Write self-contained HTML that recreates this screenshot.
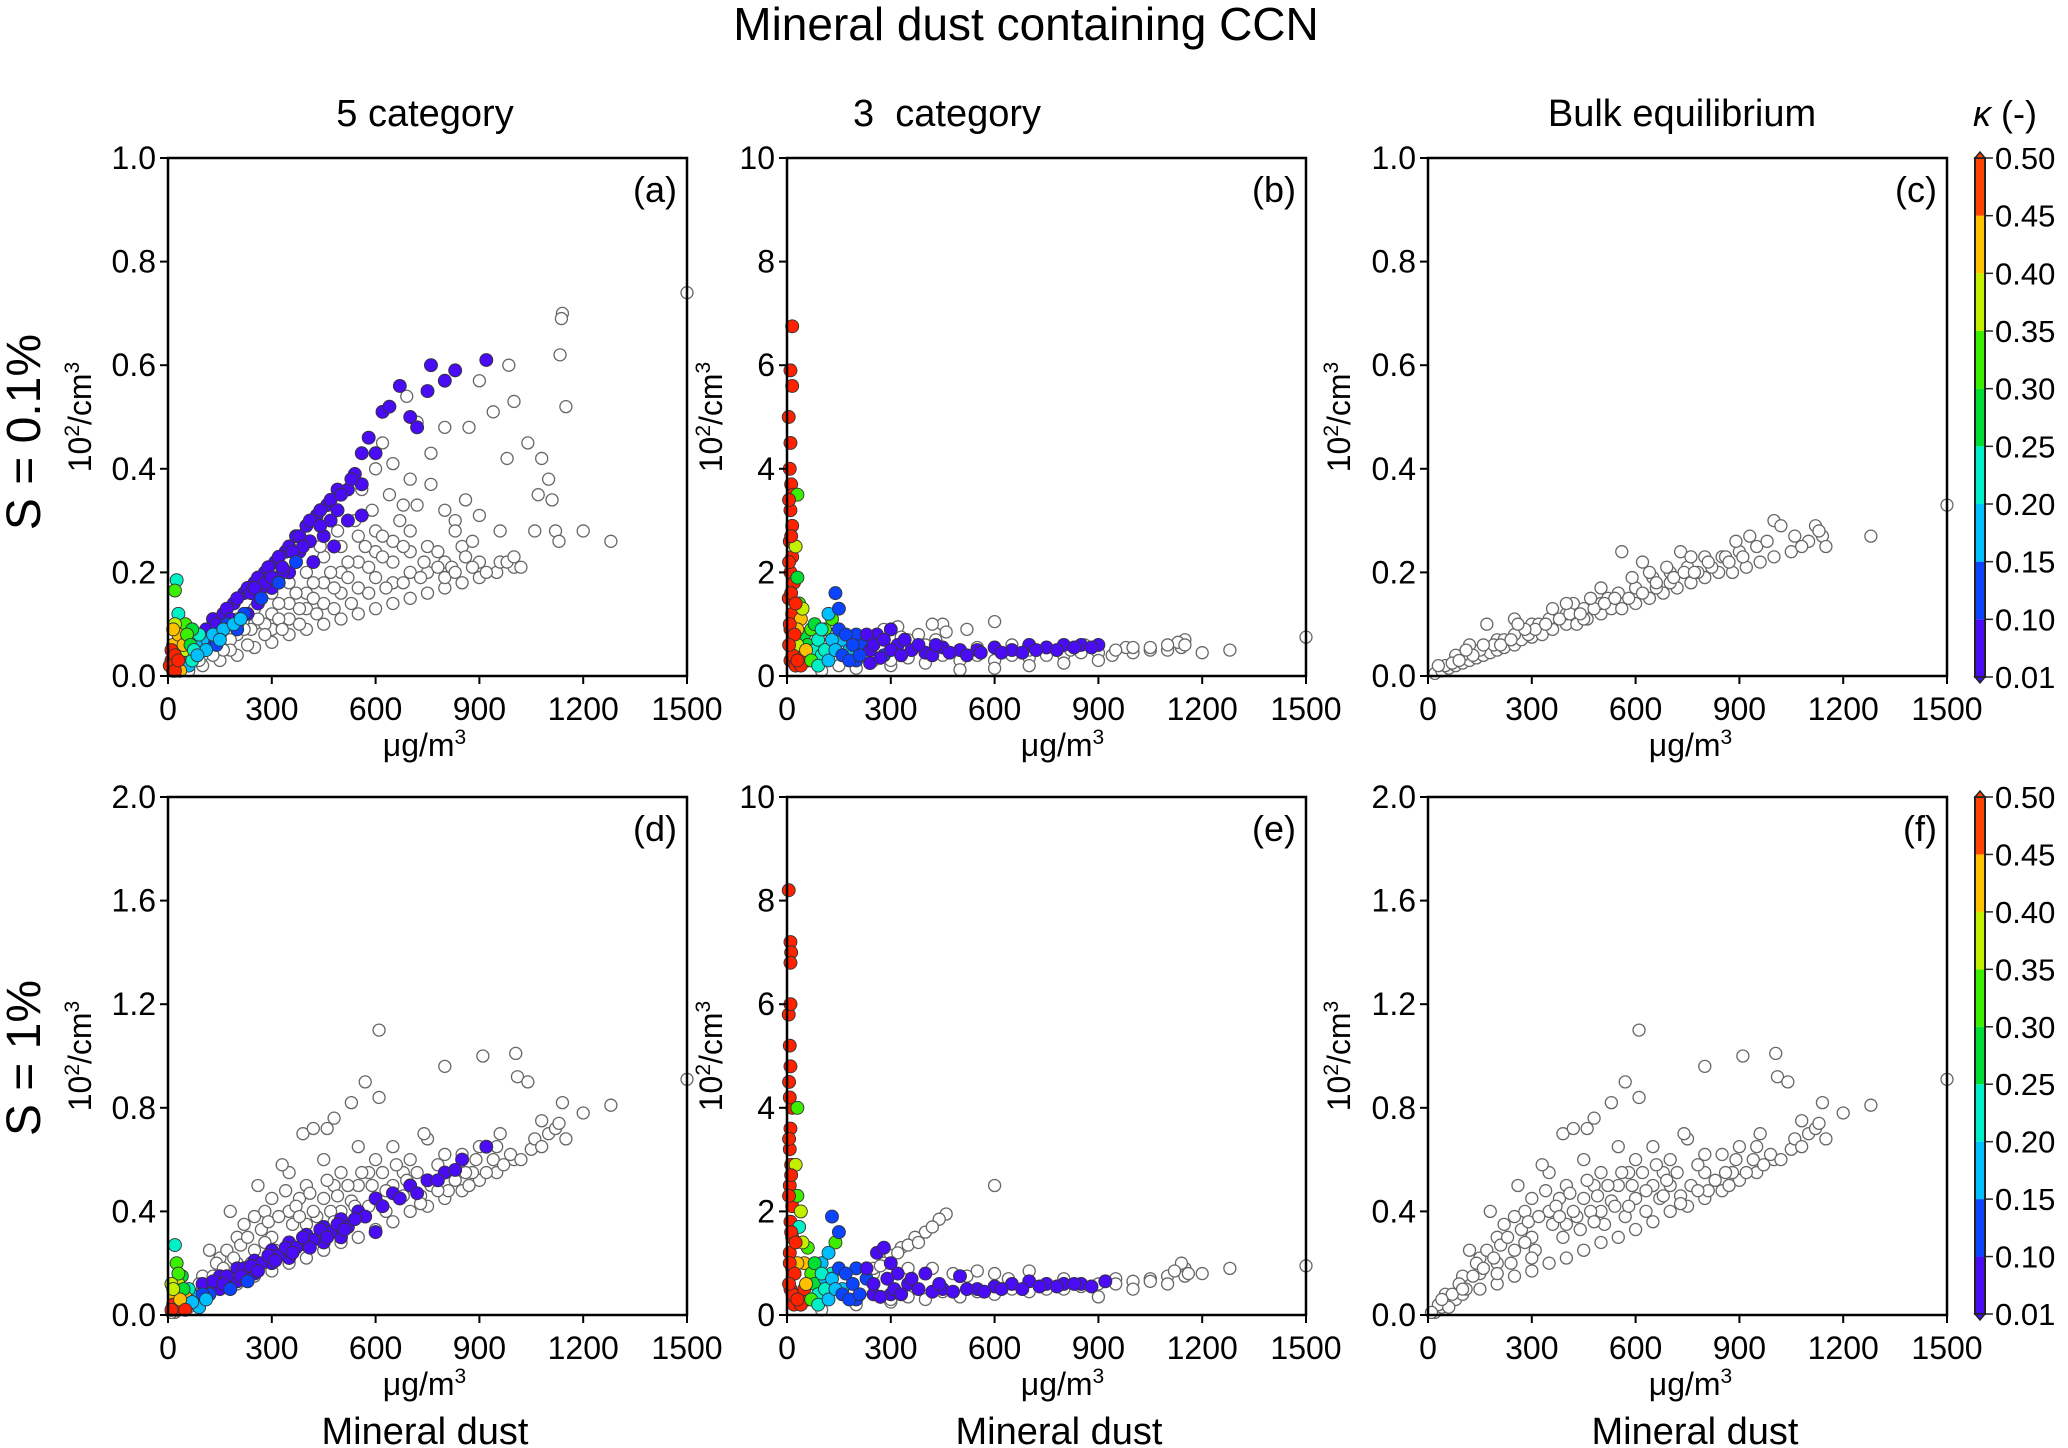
<!DOCTYPE html>
<html><head><meta charset="utf-8"><style>
html,body{margin:0;padding:0;background:#fff}
svg{display:block;font-family:"Liberation Sans",sans-serif}
</style></head><body>
<svg id="fig" width="2068" height="1448" viewBox="0 0 2068 1448" xmlns="http://www.w3.org/2000/svg">
<text x="1026" y="40" font-size="46" text-anchor="middle">Mineral dust containing CCN</text>
<text x="425" y="126" font-size="38" text-anchor="middle">5 category</text>
<text x="947" y="126" font-size="38" text-anchor="middle" xml:space="preserve">3  category</text>
<text x="1682" y="126" font-size="38" text-anchor="middle">Bulk equilibrium</text>
<text x="2005" y="126" font-size="36" text-anchor="middle"><tspan font-style="italic">κ</tspan> (-)</text>
<text transform="translate(40,432) rotate(-90)" font-size="48" text-anchor="middle">S = 0.1%</text>
<text transform="translate(40,1058) rotate(-90)" font-size="48" text-anchor="middle">S = 1%</text>
<text x="425" y="1444" font-size="38" text-anchor="middle">Mineral dust</text>
<text x="1059" y="1444" font-size="38" text-anchor="middle">Mineral dust</text>
<text x="1695" y="1444" font-size="38" text-anchor="middle">Mineral dust</text>
<g id="plots"></g>
</svg>
<script>
// ---- data ----
const xTicks = [0,300,600,900,1200,1500];
const yTicksA = ["0.0","0.2","0.4","0.6","0.8","1.0"];
const yTicksB = ["0","2","4","6","8","10"];
const yTicksD = ["0.0","0.4","0.8","1.2","1.6","2.0"];
const cbLabels = ["0.01","0.10","0.15","0.20","0.25","0.30","0.35","0.40","0.45","0.50"];
const cbColors = ["#4a0cf5","#0a44ff","#00bfff","#00f0c8","#00dd33","#3cee00","#c4f000","#ffc000","#ff4400"];
const kBounds = [0.10,0.15,0.20,0.25,0.30,0.35,0.40,0.45];

const grayA = [[60,0.01],[100,0.02],[150,0.03],[200,0.04],[250,0.055],[300,0.065],[350,0.08],[400,0.09],[450,0.1],[500,0.11],[550,0.12],[600,0.13],[650,0.14],[700,0.15],[750,0.16],[800,0.17],[850,0.18],[900,0.19],[950,0.2],[1000,0.21],
[150,0.06],[200,0.08],[250,0.1],[300,0.12],[350,0.14],[400,0.16],[450,0.18],[500,0.2],[550,0.22],[600,0.24],[650,0.26],[700,0.28],[750,0.25],[800,0.22],[850,0.25],[200,0.11],[300,0.16],[400,0.2],[500,0.25],[600,0.28],[350,0.18],[450,0.23],[550,0.27],[650,0.22],[700,0.2],[250,0.13],[100,0.04],[500,0.16],[600,0.19],[400,0.13],[300,0.09],[700,0.24],[800,0.19],[900,0.22],[450,0.14],[550,0.17],[650,0.18],[750,0.2],[350,0.11],
[120,0.05],[180,0.07],[240,0.09],[280,0.1],[320,0.11],[380,0.13],[420,0.15],[480,0.17],[520,0.19],[580,0.21],[620,0.23],[680,0.25],[740,0.22],[780,0.24],[820,0.21],[860,0.23],[920,0.2],[180,0.05],[230,0.06],[280,0.08],[330,0.09],[380,0.1],[430,0.12],[480,0.13],[530,0.14],[580,0.16],[630,0.17],[680,0.18],[730,0.19],[780,0.21],[830,0.2],[880,0.21],[960,0.22],[320,0.14],[370,0.16],[420,0.18],[470,0.2],[520,0.22],[570,0.25],[620,0.27],[670,0.3],[440,0.25],[490,0.28],[540,0.3],[590,0.32],[640,0.35],[680,0.33],[260,0.11],[220,0.09],[160,0.05],[130,0.04],[90,0.03],
[560,0.36],[600,0.4],[650,0.41],[700,0.38],[720,0.33],[760,0.37],[800,0.32],[830,0.3],[860,0.34],[900,0.31],[960,0.28],[980,0.22],[1000,0.23],[1020,0.21],[1040,0.45],[1080,0.42],[1100,0.38],[1070,0.35],[1110,0.34],[1120,0.28],[1130,0.26],[1060,0.28],[1200,0.28],[1280,0.26],[980,0.42],[1000,0.53],[985,0.6],[900,0.57],[870,0.48],[940,0.51],[1140,0.7],[1137,0.69],[1133,0.62],[1150,0.52],[1500,0.74],[800,0.48],[760,0.43],[690,0.54],[720,0.49],[620,0.45],[830,0.28],[880,0.26]];
const colA = [[100,0.08,.05],[130,0.11,.05],[160,0.12,.05],[190,0.14,.05],[220,0.16,.05],[250,0.18,.05],[280,0.2,.05],[310,0.22,.05],[340,0.24,.05],[370,0.27,.05],[400,0.29,.05],[430,0.31,.05],[460,0.33,.05],[490,0.36,.05],[520,0.36,.05],[540,0.39,.05],[560,0.43,.05],[580,0.46,.05],[620,0.51,.05],[640,0.52,.05],[670,0.56,.05],[700,0.5,.05],[720,0.48,.05],[750,0.55,.05],[760,0.6,.05],[800,0.57,.05],[830,0.59,.05],[920,0.61,.05],[600,0.43,.05],[560,0.37,.05],[560,0.31,.05],[450,0.27,.05],[380,0.24,.05],[300,0.17,.05],[260,0.14,.05],[200,0.1,.05],[150,0.08,.05],[420,0.22,.05],[520,0.3,.05],[480,0.25,.05],[350,0.2,.05],[230,0.12,.05],[410,0.26,.05],[470,0.3,.05],[330,0.2,.05],[270,0.17,.05],
[110,0.09,.05],[140,0.1,.05],[170,0.13,.05],[200,0.15,.05],[230,0.17,.05],[260,0.19,.05],[290,0.21,.05],[320,0.23,.05],[350,0.25,.05],[380,0.27,.05],[410,0.3,.05],[440,0.32,.05],[470,0.34,.05],[500,0.35,.05],[530,0.38,.05],[240,0.16,.05],[280,0.18,.05],[330,0.21,.05],[390,0.25,.05],[440,0.29,.05],[490,0.32,.05],[360,0.24,.05],[300,0.19,.05],[180,0.11,.05],[250,0.17,.05],
[120,0.07,.12],[170,0.1,.12],[220,0.12,.12],[270,0.15,.12],[320,0.18,.12],[370,0.22,.12],[140,0.06,.12],[200,0.09,.12],
[100,0.07,.17],[130,0.08,.17],[160,0.09,.17],[190,0.1,.17],[210,0.11,.17],
[80,0.06,.17],[110,0.05,.17],[150,0.07,.17],[60,0.04,.22],[90,0.08,.22],[25,0.185,.22],[20,0.165,.3],[30,0.12,.22],[50,0.1,.3],[70,0.09,.27],[40,0.07,.32],[20,0.1,.38],[30,0.05,.42],[15,0.06,.43],[40,0.03,.47],[25,0.02,.48],[10,0.03,.48],[50,0.05,.35],[60,0.02,.17],[35,0.01,.44],[15,0.01,.48],[70,0.03,.22],
[10,0.05,.48],[20,0.04,.46],[30,0.08,.44],[15,0.09,.4],[45,0.06,.4],[55,0.08,.33],[65,0.06,.27],[75,0.05,.22],[85,0.04,.17],[5,0.02,.5],[20,0.01,.5],[30,0.03,.47]];

const grayC = [[20,0.005],[40,0.01],[60,0.015],[80,0.02],[100,0.025],[120,0.03],[140,0.035],[160,0.04],[180,0.045],[200,0.05],[220,0.055],[250,0.06],[270,0.07],[300,0.075],[330,0.08],[360,0.09],[400,0.1],[430,0.1],[460,0.11],[500,0.12],[530,0.13],[560,0.13],[600,0.14],[640,0.15],[680,0.16],[720,0.17],[760,0.18],[800,0.19],[840,0.2],[880,0.2],[920,0.21],[960,0.22],[1000,0.23],[1050,0.24],[1100,0.26],[1140,0.27],[1280,0.27],[1500,0.33],
[50,0.02],[100,0.04],[150,0.05],[200,0.07],[250,0.08],[300,0.1],[350,0.11],[400,0.12],[450,0.13],[500,0.14],[550,0.16],[600,0.17],[650,0.19],[700,0.2],[750,0.21],[800,0.23],[850,0.23],[900,0.24],[950,0.25],[1000,0.3],[1020,0.29],[1120,0.29],[170,0.1],[250,0.11],[560,0.24],[620,0.22],[730,0.24],[860,0.23],[930,0.27],[360,0.13],[120,0.06],[80,0.04],[30,0.02],[700,0.18],[450,0.11],[1150,0.25],[520,0.15],[420,0.14],[320,0.1],[220,0.07],[660,0.17],[780,0.2],
[70,0.025],[90,0.03],[130,0.04],[190,0.06],[210,0.06],[240,0.07],[290,0.08],[310,0.09],[340,0.1],[380,0.11],[410,0.12],[440,0.12],[480,0.13],[510,0.14],[540,0.15],[580,0.15],[620,0.16],[660,0.18],[710,0.19],[740,0.2],[770,0.2],[820,0.21],[870,0.22],[910,0.23],[980,0.26],[1060,0.27],[1080,0.25],[1130,0.28],[280,0.09],[470,0.15],[590,0.19],[690,0.21],[810,0.22],[110,0.05],[160,0.06],[260,0.1],[400,0.14],[500,0.17],[640,0.2],[760,0.23],[890,0.26]];

const grayB = [[100,0.1],[200,0.15],[300,0.2],[400,0.25],[500,0.3],[600,0.3],[700,0.35],[800,0.4],[900,0.45],[1000,0.45],[1100,0.5],[1140,0.55],[1150,0.7],[1200,0.45],[1280,0.5],[1500,0.75],[980,0.55],[1050,0.5],[940,0.4],[860,0.6],[820,0.5],[600,1.05],[450,1.0],[420,1.0],[320,0.95],[280,0.9],[350,0.7],[400,0.6],[500,0.5],[550,0.55],[650,0.6],[700,0.5],[750,0.45],[250,0.3],[150,0.2],[1130,0.65],[1100,0.6],[1000,0.55],[900,0.3],[800,0.25],[700,0.2],[600,0.15],[500,0.12],
[300,0.3],[350,0.35],[450,0.4],[550,0.4],[650,0.4],[750,0.4],[850,0.45],[950,0.5],[1050,0.55],[1150,0.6],[380,0.8],[330,0.75],[520,0.9],[430,0.7],[460,0.85]];
const colB = [[15,6.75,.5],[10,5.9,.5],[15,5.6,.5],[5,5.0,.5],[10,4.5,.5],[8,4.0,.5],[12,3.7,.5],[18,3.5,.5],[10,3.2,.5],[15,2.9,.5],[8,2.6,.5],[15,2.3,.5],[10,2.0,.5],[20,1.8,.5],[5,1.5,.5],[15,1.2,.5],[10,0.9,.5],[20,0.6,.5],[10,0.3,.5],[25,0.2,.48],[30,3.5,.32],[25,2.5,.38],[30,1.9,.27],[35,1.4,.3],[40,1.1,.42],[50,0.8,.28],[60,0.6,.25],[70,0.9,.3],[80,0.5,.22],[90,0.7,.22],[100,0.4,.22],[110,0.9,.3],[130,1.1,.3],[120,1.2,.17],[140,1.6,.12],[150,1.3,.12],[160,0.7,.17],[180,0.5,.17],[200,0.8,.12],[220,0.6,.12],[240,0.5,.05],[260,0.8,.05],[300,0.9,.05],[320,0.6,.05],[360,0.5,.05],[400,0.45,.05],[450,0.55,.05],[500,0.5,.05],[550,0.5,.05],[600,0.55,.05],[650,0.5,.05],[700,0.6,.05],[750,0.55,.05],[800,0.6,.05],[850,0.6,.05],[900,0.6,.05],[280,0.4,.12],[200,0.3,.12],[240,0.25,.05],[60,0.3,.4],[40,0.3,.45],[30,0.6,.35],
[40,0.2,.48],[50,0.4,.45],[30,0.9,.42],[45,1.3,.35],[55,0.5,.4],[70,0.3,.3],[80,1.0,.28],[90,0.2,.22],[100,0.9,.2],[110,0.5,.2],[120,0.3,.17],[130,0.7,.17],[140,0.5,.17],[150,0.9,.12],[160,0.4,.12],[170,0.8,.12],[180,0.3,.12],[190,0.6,.12],[210,0.4,.12],[230,0.8,.05],[250,0.6,.05],[270,0.35,.05],[280,0.7,.05],[300,0.5,.05],[330,0.4,.05],[340,0.7,.05],[380,0.6,.05],[420,0.4,.05],[430,0.6,.05],[470,0.45,.05],[520,0.4,.05],[560,0.45,.05],[620,0.45,.05],[680,0.45,.05],[720,0.5,.05],[780,0.5,.05],[830,0.55,.05],[880,0.55,.05],
[8,1.0,.5],[12,1.6,.5],[6,2.2,.5],[12,2.7,.5],[6,3.4,.5],[16,0.4,.5],[22,0.8,.5],[25,1.4,.48],[6,0.6,.5],[30,0.3,.5]];

const grayE = [[100,0.1],[200,0.2],[300,0.25],[400,0.3],[500,0.35],[600,0.4],[700,0.45],[800,0.5],[900,0.6],[1000,0.65],[1100,0.75],[1150,0.9],[1140,1.0],[1200,0.8],[1280,0.9],[1500,0.95],[1050,0.7],[950,0.7],[850,0.6],[600,2.5],[460,1.95],[440,1.85],[400,1.6],[370,1.5],[330,1.3],[300,1.15],[280,1.0],[350,0.9],[420,0.9],[480,0.8],[520,0.75],[550,0.85],[640,0.7],[700,0.85],[750,0.6],[900,0.35],[1000,0.5],[1100,0.6],[250,0.8],
[300,0.3],[350,0.35],[450,0.45],[550,0.45],[650,0.5],[750,0.5],[850,0.55],[950,0.6],[1050,0.65],[1150,0.75],[320,1.2],[350,1.35],[380,1.4],[420,1.7],[250,0.9],[270,0.95],[600,0.8],[800,0.7],[1120,0.85],[1160,0.8]];
const colE = [[5,8.2,.5],[10,7.2,.5],[12,7.0,.5],[10,6.8,.5],[5,5.8,.5],[8,5.2,.5],[10,4.8,.5],[6,4.5,.5],[15,4.0,.5],[10,3.6,.5],[8,3.2,.5],[12,2.9,.5],[8,2.5,.5],[15,2.1,.5],[10,1.8,.5],[15,1.5,.5],[8,1.2,.5],[15,0.9,.5],[10,0.5,.5],[20,0.2,.5],[30,4.0,.3],[25,2.9,.38],[30,2.3,.32],[40,2.0,.38],[35,1.7,.22],[60,1.3,.3],[50,1.0,.42],[70,0.8,.3],[80,0.6,.27],[90,0.4,.22],[110,0.7,.17],[130,0.8,.22],[100,1.0,.17],[140,1.4,.3],[130,1.9,.12],[150,1.6,.12],[120,1.2,.17],[160,0.5,.17],[200,0.9,.12],[230,0.7,.12],[260,1.2,.05],[280,1.3,.05],[300,1.0,.05],[320,0.8,.05],[350,0.6,.05],[400,0.8,.05],[450,0.5,.05],[500,0.75,.05],[550,0.5,.05],[600,0.55,.05],[650,0.6,.05],[700,0.65,.05],[750,0.6,.05],[800,0.6,.05],[850,0.6,.05],[920,0.65,.05],[250,0.4,.05],[200,0.3,.12],[300,0.4,.05],[60,0.3,.45],[40,0.2,.48],
[40,0.2,.48],[50,0.5,.45],[30,1.0,.42],[45,1.4,.35],[55,0.6,.4],[70,0.3,.3],[80,1.0,.28],[90,0.2,.22],[100,0.8,.2],[110,0.5,.2],[120,0.3,.17],[130,0.7,.17],[140,0.5,.17],[150,0.9,.12],[160,0.4,.12],[170,0.8,.12],[180,0.3,.12],[190,0.6,.12],[210,0.4,.12],[230,0.9,.05],[250,0.6,.05],[270,0.35,.05],[290,0.7,.05],[310,0.5,.05],[330,0.4,.05],[360,0.7,.05],[380,0.5,.05],[420,0.45,.05],[440,0.6,.05],[480,0.45,.05],[520,0.5,.05],[570,0.45,.05],[620,0.5,.05],[680,0.5,.05],[730,0.55,.05],[780,0.55,.05],[830,0.6,.05],[880,0.55,.05],[8,1.0,.5],[12,1.6,.5],[6,2.3,.5],[12,2.7,.5],[6,3.4,.5],[16,0.4,.5],[22,0.8,.5],[25,1.4,.48],[6,0.6,.5],[30,0.3,.5],[10,6.0,.5],[8,4.2,.5]];

const grayF = [[20,0.01],[40,0.03],[60,0.05],[80,0.06],[100,0.08],[150,0.1],[200,0.12],[250,0.15],[300,0.17],[350,0.2],[400,0.22],[450,0.25],[500,0.28],[550,0.3],[600,0.33],[650,0.36],[700,0.4],[750,0.42],[800,0.45],[850,0.48],[900,0.52],[950,0.55],[1000,0.6],[1050,0.64],[1100,0.7],[1150,0.68],
[50,0.08],[100,0.15],[150,0.22],[200,0.3],[250,0.38],[300,0.45],[350,0.55],[400,0.5],[450,0.6],[500,0.55],[550,0.65],[600,0.6],[650,0.65],[700,0.6],[750,0.68],[800,0.62],[850,0.62],[900,0.65],[950,0.65],[120,0.25],[180,0.4],[260,0.5],[330,0.58],[200,0.2],[300,0.3],[400,0.35],[500,0.4],[600,0.45],[700,0.5],[800,0.55],[350,0.4],[450,0.45],[550,0.5],[650,0.5],[250,0.25],[150,0.16],[220,0.35],[280,0.4],[380,0.45],[480,0.5],[580,0.55],[680,0.55],[430,0.38],[530,0.44],[630,0.4],[730,0.46],[880,0.55],
[30,0.04],[70,0.08],[90,0.12],[110,0.1],[130,0.15],[140,0.2],[160,0.18],[170,0.25],[190,0.22],[210,0.27],[230,0.3],[240,0.2],[270,0.33],[290,0.36],[310,0.25],[320,0.38],[340,0.48],[360,0.35],[370,0.42],[390,0.3],[410,0.47],[420,0.4],[440,0.33],[460,0.52],[470,0.4],[490,0.46],[510,0.35],[520,0.5],[540,0.42],[560,0.55],[570,0.38],[590,0.5],[620,0.55],[630,0.48],[660,0.58],[670,0.45],[690,0.52],[720,0.55],[730,0.43],[760,0.5],[780,0.58],[810,0.48],[830,0.52],[860,0.55],[870,0.5],[890,0.6],[920,0.55],[940,0.6],[970,0.58],[990,0.62],[1020,0.6],[1060,0.68],[1120,0.72],[280,0.28],[380,0.38],[480,0.36],[580,0.42],[680,0.46],[780,0.48],[300,0.22],[200,0.16],[100,0.1],[60,0.03],[40,0.06],[10,0.01],
[610,1.1],[910,1.0],[1005,1.01],[800,0.96],[1010,0.92],[1040,0.9],[570,0.9],[610,0.84],[530,0.82],[480,0.76],[390,0.7],[420,0.72],[460,0.72],[1080,0.75],[1140,0.82],[1200,0.78],[1280,0.81],[1500,0.91],[1130,0.74],[740,0.7],[960,0.7],[1080,0.65]];
const grayD = grayF;
const colD = [[100,0.12,.05],[150,0.15,.05],[200,0.18,.05],[250,0.21,.05],[300,0.25,.05],[350,0.28,.05],[400,0.31,.05],[450,0.34,.05],[500,0.37,.05],[550,0.4,.05],[600,0.45,.05],[650,0.47,.05],[700,0.5,.05],[750,0.52,.05],[800,0.55,.05],[850,0.6,.05],[920,0.65,.05],[200,0.13,.05],[300,0.2,.05],[400,0.27,.05],[500,0.3,.05],[600,0.32,.05],[450,0.28,.05],[350,0.22,.05],[250,0.16,.05],[150,0.1,.05],
[130,0.13,.05],[170,0.15,.05],[220,0.18,.05],[270,0.2,.05],[320,0.23,.05],[370,0.26,.05],[420,0.29,.05],[470,0.32,.05],[520,0.34,.05],[570,0.38,.05],[620,0.42,.05],[670,0.45,.05],[720,0.47,.05],[780,0.52,.05],[830,0.56,.05],[240,0.19,.05],[290,0.23,.05],[340,0.26,.05],[390,0.3,.05],[440,0.33,.05],[490,0.35,.05],[540,0.37,.05],[160,0.12,.05],[210,0.15,.05],[260,0.17,.05],[310,0.21,.05],[360,0.24,.05],[410,0.26,.05],[460,0.3,.05],[510,0.33,.05],
[120,0.08,.12],[180,0.1,.12],[230,0.13,.12],[80,0.07,.17],[60,0.1,.22],[20,0.27,.22],[25,0.2,.3],[40,0.15,.27],[30,0.12,.35],[20,0.07,.4],[15,0.04,.45],[40,0.04,.48],[25,0.02,.48],[60,0.04,.3],[90,0.03,.17],[50,0.07,.42],
[70,0.05,.17],[100,0.08,.12],[110,0.06,.17],[45,0.1,.25],[30,0.16,.3],[10,0.12,.35],[35,0.06,.44],[10,0.02,.5],[50,0.02,.45],[15,0.1,.38]];

// ---- layout ----
const NS = "http://www.w3.org/2000/svg";
const root = document.getElementById('plots');
function el(tag, attrs, parent){const e=document.createElementNS(NS,tag);for(const k in attrs)e.setAttribute(k,attrs[k]);(parent||root).appendChild(e);return e;}
function colorFor(k){let i=0;while(i<kBounds.length && k>=kBounds[i])i++;return i===8?"#ff2200":cbColors[i];}

const panels = [
 {id:"a",x:168,y:158,ymax:1,yt:yTicksA,gray:grayA,col:colA,ytx:-88},
 {id:"b",x:787,y:158,ymax:10,yt:yTicksB,gray:grayB,col:colB,ytx:-76},
 {id:"c",x:1428,y:158,ymax:1,yt:yTicksA,gray:grayC,col:[],ytx:-89},
 {id:"d",x:168,y:797,ymax:2,yt:yTicksD,gray:grayD,col:colD,ytx:-88},
 {id:"e",x:787,y:797,ymax:10,yt:yTicksB,gray:grayE,col:colE,ytx:-76},
 {id:"f",x:1428,y:797,ymax:2,yt:yTicksD,gray:grayF,col:[],ytx:-89}
];
const W=519,H=518;
panels.forEach(p=>{
  const g=el('g',{});
  
  
  const sx=v=>p.x+v/1500*W, sy=v=>p.y+H-v/p.ymax*H;
  p.gray.forEach(d=>{const c=el('circle',{cx:sx(d[0]),cy:sy(d[1]),r:6,fill:'#fff',stroke:'#666','stroke-width':1.3},g);
    
    });
  p.col.forEach(d=>{const c=el('circle',{cx:sx(d[0]),cy:sy(d[1]),r:6.5,fill:colorFor(d[2]),stroke:'#333','stroke-width':0.9},g);
    
    });
  const fr=el('rect',{x:p.x,y:p.y,width:W,height:H,fill:'none',stroke:'#000','stroke-width':2.5},g);
  
  
  xTicks.forEach(t=>{
    el('line',{x1:sx(t),x2:sx(t),y1:p.y+H,y2:p.y+H+8,stroke:'#000','stroke-width':2},g);
    const tx=el('text',{x:sx(t),y:p.y+H+44,'font-size':32,'text-anchor':'middle'},g);
    tx.textContent=t;
    
    
  });
  p.yt.forEach((t,i)=>{
    const yy=p.y+H-i/(p.yt.length-1)*H;
    el('line',{x1:p.x-8,x2:p.x,y1:yy,y2:yy,stroke:'#000','stroke-width':2},g);
    const tx=el('text',{x:p.x-12,y:yy+11,'font-size':32,'text-anchor':'end'},g);
    tx.textContent=t;
    
    
  });
  const xl=el('text',{x:p.x+W/2+(p.id==='a'||p.id==='d'?-3:(p.id==='b'||p.id==='e'?16:3)),y:p.y+H+80,'font-size':32,'text-anchor':'middle'},g);
  xl.innerHTML='μg/m<tspan font-size="21" dy="-12">3</tspan>';
  
  
  const yl=el('text',{transform:`translate(${p.x+p.ytx+11},${p.y+H/2}) rotate(-90)`,'font-size':32,'text-anchor':'middle'},g);
  yl.innerHTML='10<tspan font-size="21" dy="-12">2</tspan><tspan dy="12">/cm</tspan><tspan font-size="21" dy="-12">3</tspan>';
  
  
  const pl=el('text',{x:p.x+W-10,y:p.y+44,'font-size':36,'text-anchor':'end'},g);
  pl.textContent='('+p.id+')';
  
  
});
[[158,677],[797,1314]].forEach((r,ri)=>{
  const g=el('g',{});
  
  
  const x=1975,w=10,h=r[1]-r[0],n=cbColors.length;
  cbColors.forEach((c,i)=>{el('rect',{x:x,y:r[1]-(i+1)*h/n,width:w,height:h/n,fill:c},g);});
  el('rect',{x:x,y:r[0],width:w,height:h,fill:'none',stroke:'#222','stroke-width':2},g);
  el('polygon',{points:`${x},${r[0]} ${x+w},${r[0]} ${x+w/2},${r[0]-6}`,fill:'#ff4400',stroke:'#222','stroke-width':1.5},g);
  el('polygon',{points:`${x},${r[1]} ${x+w},${r[1]} ${x+w/2},${r[1]+6}`,fill:'#4a0cf5',stroke:'#222','stroke-width':1.5},g);
  cbLabels.forEach((l,i)=>{
    const yy=r[1]-i*h/n;
    el('line',{x1:x+w,x2:x+w+8,y1:yy,y2:yy,stroke:'#222','stroke-width':1.5},g);
    const t=el('text',{x:1995,y:yy+11,'font-size':31},g);
    t.textContent=l;
    
    
  });
});
</script>
</body></html>
